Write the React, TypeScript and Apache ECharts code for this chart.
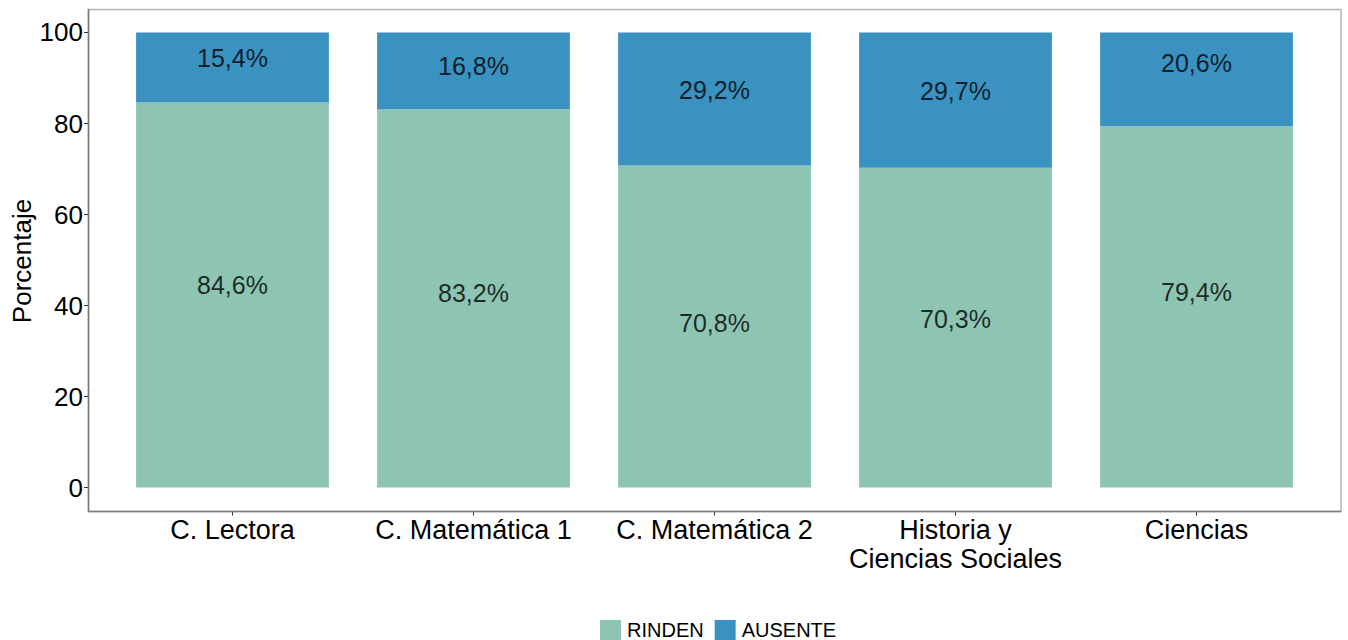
import React, { useEffect, useRef } from "react";
import * as echarts from "echarts";

const categories = ["C. Lectora", "C. Matemática 1", "C. Matemática 2", "Historia y\nCiencias Sociales", "Ciencias"];
const rinden = [84.6, 83.2, 70.8, 70.3, 79.4];
const ausente = [15.4, 16.8, 29.2, 29.7, 20.6];
// label anchor heights (in axis units)
const rindenLabelY = [44.6, 42.7, 36.1, 37.0, 43.0];
const ausenteLabelY = [94.3, 92.6, 87.3, 87.2, 93.2];
const yTicks = [0, 20, 40, 60, 80, 100];

const FONT = "Liberation Sans, Arial, sans-serif";
const C_RINDEN = "#8dc4b2";
const C_AUSENTE = "#3a92c0";

export default function App() {
  const ref = useRef<HTMLDivElement>(null);
  useEffect(() => {
    document.body.style.margin = "0";
    const chart = echarts.init(ref.current!, undefined, { renderer: "svg" });
    const fmt = (v: number) => v.toFixed(1).replace(".", ",") + "%";
    const labelSeries = (name: string, ys: number[], vals: number[]) => ({
      type: "scatter",
      name,
      data: ys.map((y, i) => ({ value: [i, y], txt: fmt(vals[i]) })),
      symbolSize: 1,
      itemStyle: { color: "rgba(0,0,0,0)" },
      silent: true,
      z: 5,
      label: {
        show: true,
        position: "inside",
        formatter: (p: any) => p.data.txt,
        fontSize: 25,
        fontFamily: FONT,
        color: "#000",
      },
    });
    chart.setOption({
      animation: false,
      grid: { left: 112, right: 31, top: 9.5, bottom: 128.5 },
      legend: {
        data: ["RINDEN", "AUSENTE"],
        left: 600,
        top: 620,
        padding: 0,
        itemWidth: 21,
        itemHeight: 20,
        itemGap: 11,
        icon: "rect",
        textStyle: { fontSize: 20, fontFamily: FONT, color: "#000", padding: [0, 0, 0, 1] },
        selectedMode: false,
      },
      xAxis: {
        type: "category",
        data: categories,
        axisLine: { show: false, onZero: false },
        axisTick: { show: true, alignWithLabel: true, length: 4, lineStyle: { color: "#333" } },
        axisLabel: {
          fontSize: 27,
          fontFamily: FONT,
          color: "#000",
          margin: 4,
          lineHeight: 29,
          interval: 0,
        },
      },
      yAxis: {
        type: "value",
        min: -5.25,
        max: 105.05,
        offset: 24,
        splitLine: { show: false },
        axisLine: { show: false },
        axisTick: { show: true, length: 4, customValues: yTicks, lineStyle: { color: "#333" } },
        axisLabel: {
          fontSize: 26,
          fontFamily: FONT,
          color: "#000",
          margin: 5,
          customValues: yTicks,
        },
      },
      graphic: [
        {
          type: "rect",
          shape: { x: 88.5, y: 9.5, width: 1252.5, height: 502 },
          style: { fill: "none", stroke: "#b5b5b5", lineWidth: 1.5 },
          silent: true,
          z: 0,
        },
        {
          type: "line",
          shape: { x1: 88.5, y1: 9, x2: 88.5, y2: 512 },
          style: { stroke: "#7a7a7a", lineWidth: 1.5 },
          silent: true,
          z: 1,
        },
        {
          type: "line",
          shape: { x1: 88, y1: 511.5, x2: 1341, y2: 511.5 },
          style: { stroke: "#7a7a7a", lineWidth: 1.5 },
          silent: true,
          z: 1,
        },
        {
          type: "text",
          x: 22,
          y: 261,
          rotation: Math.PI / 2,
          style: {
            text: "Porcentaje",
            fontSize: 26,
            fontFamily: FONT,
            fill: "#000",
            align: "center",
            verticalAlign: "middle",
          },
          silent: true,
        },
      ],
      series: [
        {
          type: "bar",
          name: "RINDEN",
          stack: "t",
          data: rinden,
          barWidth: "80%",
          itemStyle: { color: C_RINDEN },
        },
        {
          type: "bar",
          name: "AUSENTE",
          stack: "t",
          data: ausente,
          barWidth: "80%",
          itemStyle: { color: C_AUSENTE },
        },
        labelSeries("lblR", rindenLabelY, rinden),
        labelSeries("lblA", ausenteLabelY, ausente),
      ],
    });
    return () => chart.dispose();
  }, []);
  return <div ref={ref} style={{ position: "absolute", left: 0, top: 0, width: 1348, height: 640 }} />;
}
